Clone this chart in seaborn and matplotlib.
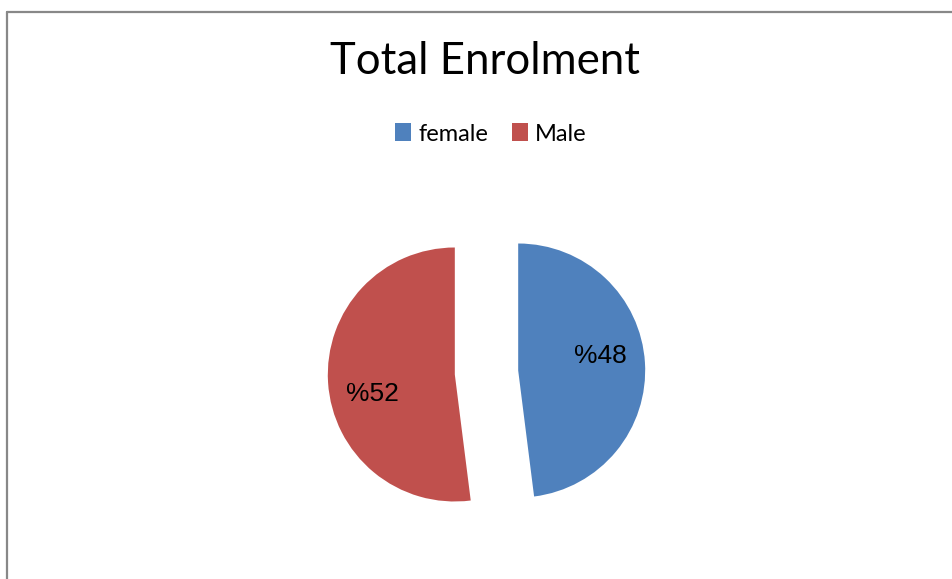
import numpy as np
import matplotlib
matplotlib.use("Agg")
import matplotlib.pyplot as plt
from matplotlib.lines import Line2D
import seaborn as sns

# Enrolment shares
genders = ["female", "Male"]
shares = [48, 52]
pct_labels = ["%48", "%52"]

sns.set_theme(style="white")
colors = sns.color_palette(["#4F81BD", "#C0504D"])

W, H = 953, 579
fig = plt.figure(figsize=(W / 100, H / 100), dpi=100)
ax = fig.add_axes([0, 0, 1, 1])

# pie centre and radius in pixels
cx, cy, r = 486.5, 372.5, 127.0

wedges, texts = ax.pie(
    shares,
    colors=colors,
    startangle=90,
    counterclock=False,
    explode=[0.25, 0.25],
    radius=1.0,
    wedgeprops=dict(linewidth=0),
)

# data labels, Excel style: set a bit off the mid angle
for w, lab in zip(wedges, pct_labels):
    mid = np.deg2rad((w.theta1 + w.theta2) / 2 + 8)
    ox, oy = w.center
    ax.text(ox + 0.66 * np.cos(mid), oy + 0.66 * np.sin(mid) - 0.02, lab,
            ha="center", va="center", fontsize=19, color="black",
            family=["Liberation Sans", "DejaVu Sans"])

ax.set_xlim(-cx / r, (W - cx) / r)
ax.set_ylim(-(H - cy) / r, cy / r)
ax.set_aspect("auto")
ax.axis("off")

fig.text(485.5 / W, 1 - 62 / H, "Total Enrolment", ha="center", va="center",
         fontsize=31.5, family=["Lato", "DejaVu Sans"], color="black")

leg = fig.legend(wedges, genders, loc="center", bbox_to_anchor=(491 / W, 1 - 134 / H),
                 ncol=2, frameon=False, handlelength=0.68, handleheight=0.8,
                 handletextpad=0.3, columnspacing=1.0,
                 prop=dict(family=["Lato", "DejaVu Sans"], size=17))
for t in leg.get_texts():
    t.set_color("black")

# chart frame (only top and left edges visible)
fig.add_artist(Line2D([6.5 / W, 6.5 / W], [0, 1 - 11.5 / H], color="#888888", lw=1.6))
fig.add_artist(Line2D([6.5 / W, 1], [1 - 11.5 / H, 1 - 11.5 / H], color="#888888", lw=1.6))

fig.savefig("out.png", dpi=100, facecolor="white")
